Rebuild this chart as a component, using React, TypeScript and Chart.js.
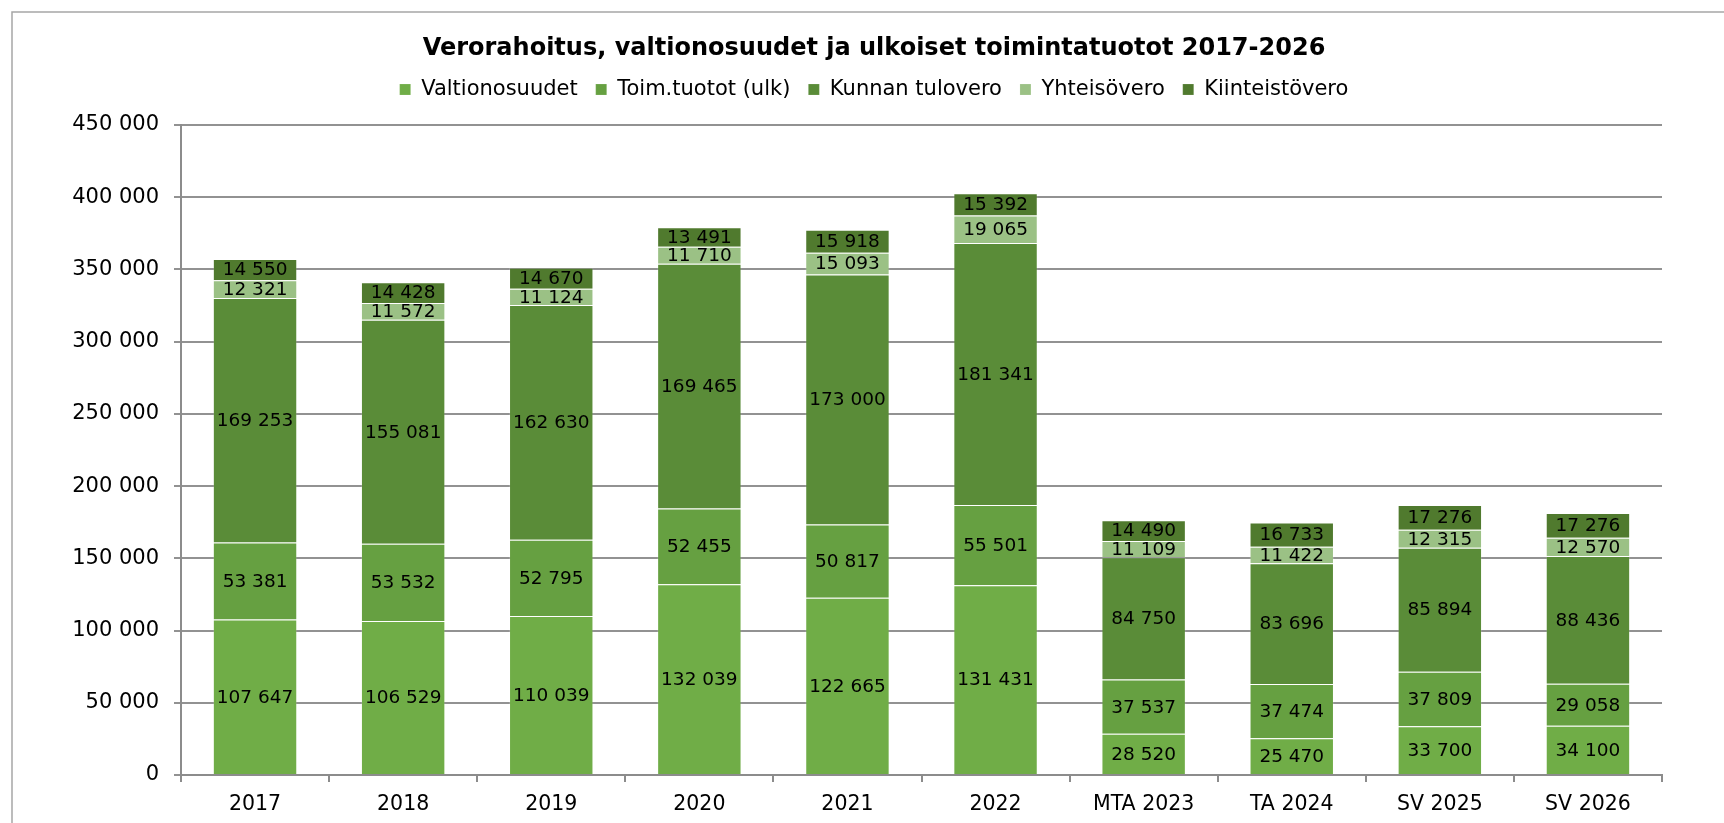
import React, { useEffect, useRef } from 'react';
import { Chart, registerables } from 'chart.js';

Chart.register(...registerables);

const categories = ['2017', '2018', '2019', '2020', '2021', '2022', 'MTA 2023', 'TA 2024', 'SV 2025', 'SV 2026'];

const valtionosuudet = [107647, 106529, 110039, 132039, 122665, 131431, 28520, 25470, 33700, 34100];
const toimTuotot = [53381, 53532, 52795, 52455, 50817, 55501, 37537, 37474, 37809, 29058];
const kunnanTulovero = [169253, 155081, 162630, 169465, 173000, 181341, 84750, 83696, 85894, 88436];
const yhteisovero = [12321, 11572, 11124, 11710, 15093, 19065, 11109, 11422, 12315, 12570];
const kiinteistovero = [14550, 14428, 14670, 13491, 15918, 15392, 14490, 16733, 17276, 17276];

const seriesNames = ['Valtionosuudet', 'Toim.tuotot (ulk)', 'Kunnan tulovero', 'Yhteisövero', 'Kiinteistövero'];
const seriesValues = [valtionosuudet, toimTuotot, kunnanTulovero, yhteisovero, kiinteistovero];
const seriesColors = ['#70AD47', '#66A041', '#5A8C38', '#9BC185', '#507A2E'];

const titleText = 'Verorahoitus, valtionosuudet ja ulkoiset toimintatuotot 2017-2026';
const yMin = 0;
const yMax = 450000;
const yStep = 50000;

const fmt = (v: number) => String(Math.round(v)).replace(/\B(?=(\d{3})+(?!\d))/g, ' ');

const FONT = 'DejaVu Sans';

const framePlugin = {
  id: 'frame',
  afterLayout(chart: any) {
    // widen the y-axis label clip area so long tick labels are not cut
    const y = chart.scales.y;
    if (y) y.left = 0;
  },
  beforeDraw(chart: any) {
    const ctx = chart.ctx;
    ctx.save();
    ctx.strokeStyle = '#a6a6a6';
    ctx.lineWidth = 1.5;
    ctx.strokeRect(12, 12, 3000, 3000);
    ctx.restore();
  },
};

const valueLabelPlugin = {
  id: 'valueLabels',
  afterDatasetsDraw(chart: any) {
    const ctx = chart.ctx;
    ctx.save();
    ctx.font = `18.5px "${FONT}"`;
    ctx.fillStyle = '#000';
    ctx.textAlign = 'center';
    ctx.textBaseline = 'middle';
    chart.data.datasets.forEach((ds: any, i: number) => {
      const meta = chart.getDatasetMeta(i);
      meta.data.forEach((bar: any, j: number) => {
        const { x, y, base } = bar.getProps(['x', 'y', 'base'], true);
        ctx.fillText(fmt(ds.data[j]), x, (y + base) / 2 + 1);
      });
    });
    ctx.restore();
  },
};

export default function App() {
  const ref = useRef<HTMLCanvasElement | null>(null);

  useEffect(() => {
    document.body.style.margin = '0';
    const canvas = ref.current;
    if (!canvas) return;
    Chart.defaults.font.family = FONT;
    Chart.defaults.color = '#000';

    const chart = new Chart(canvas, {
      type: 'bar',
      data: {
        labels: categories,
        datasets: seriesNames.map((name, i) => ({
          label: name,
          data: seriesValues[i],
          backgroundColor: seriesColors[i],
          borderColor: 'rgba(255,255,255,0.15)',
          borderWidth: 1,
          xAxisID: 'x',
          yAxisID: 'y',
          barPercentage: 0.57,
          categoryPercentage: 1,
        })),
      },
      options: {
        responsive: false,
        devicePixelRatio: 1,
        animation: false,
        layout: { padding: { left: 86, right: 62, top: 0, bottom: 0 } },
        plugins: {
          title: {
            display: true,
            text: titleText,
            color: '#000',
            font: { family: FONT, size: 24, weight: 'bold', lineHeight: 1 },
            padding: { top: 37, bottom: 0 },
          },
          legend: {
            display: true,
            position: 'top',
            labels: {
              color: '#000',
              font: { family: FONT, size: 21 },
              boxWidth: 11,
              boxHeight: 11,
              padding: 18,
            },
          },
          tooltip: { enabled: false },
        },
        scales: {
          x: {
            type: 'category',
            position: 'bottom',
            stacked: true,
            offset: true,
            grid: {
              display: true,
              drawOnChartArea: false,
              drawTicks: true,
              tickLength: 7,
              color: '#8c8c8c',
              lineWidth: 2,
              offset: true,
            },
            border: { display: true, color: '#8c8c8c', width: 2 },
            ticks: {
              color: '#000',
              font: { family: FONT, size: 20.5, lineHeight: 1.2 },
              padding: 10,
              maxRotation: 0,
              autoSkip: false,
            },
            afterFit: (s: any) => {
              s.height = 48;
            },
          },
          spacer: {
            type: 'category',
            position: 'top',
            display: true,
            grid: { display: false, drawTicks: false },
            border: { display: false },
            ticks: { display: false },
            afterFit: (s: any) => {
              s.height = 15;
            },
          },
          y: {
            type: 'linear',
            position: 'left',
            stacked: true,
            min: yMin,
            max: yMax,
            grid: {
              display: true,
              drawOnChartArea: true,
              drawTicks: true,
              tickLength: 7,
              color: '#929292',
              lineWidth: 2,
            },
            border: { display: true, color: '#8c8c8c', width: 2 },
            ticks: {
              stepSize: yStep,
              color: '#000',
              font: { family: FONT, size: 21 },
              padding: 15,
              callback: (v: any) => fmt(Number(v)),
            },
            afterFit: (s: any) => {
              s.width = 95;
            },
          },
        },
      },
      plugins: [framePlugin, valueLabelPlugin],
    } as any);

    return () => {
      chart.destroy();
    };
  }, []);

  return (
    <div style={{ width: 1724, height: 823, position: 'relative' }}>
      <canvas ref={ref} width={1724} height={823} style={{ display: 'block', width: 1724, height: 823 }} />
    </div>
  );
}
